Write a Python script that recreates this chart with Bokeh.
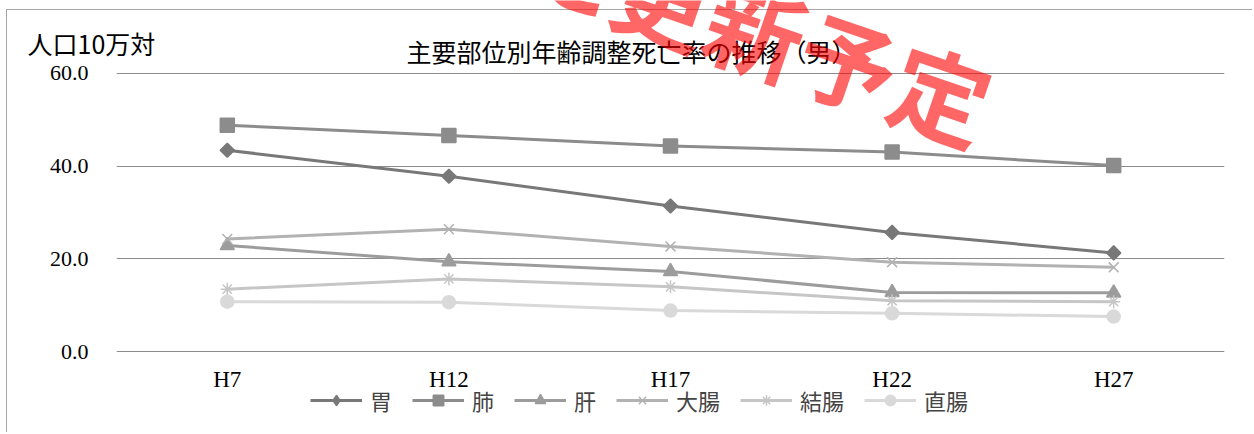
import numpy as np
from bokeh.plotting import figure
from bokeh.models import (Range1d, FactorRange, FixedTicker, PrintfTickFormatter,
                          Label, Legend, LegendItem)
from bokeh.embed import file_html
from bokeh.resources import INLINE

# ---- data ----
years = ["H7", "H12", "H17", "H22", "H27"]
series_names = ["胃", "肺", "肝", "大腸", "結腸", "直腸"]
stomach = [43.4, 37.8, 31.4, 25.7, 21.3]
lung = [48.8, 46.6, 44.3, 43.0, 40.1]
liver = [22.9, 19.4, 17.3, 12.8, 12.7]
large_intestine = [24.3, 26.4, 22.7, 19.3, 18.2]
colon = [13.5, 15.7, 14.0, 11.0, 10.8]
rectum = [10.8, 10.7, 8.9, 8.3, 7.6]
y_ticks = [0, 20, 40, 60]

title_text = "主要部位別年齢調整死亡率の推移（男）"
y_label_text = "人口10万対"
watermark_text = "近日中に更新予定"

# ---- styles ----
colors = ["#787878", "#8c8c8c", "#9c9c9c", "#b2b2b2", "#c6c6c6", "#d9d9d9"]
markers = ["square", "square", "triangle", "x", "asterisk", "circle"]
legend_markers = ["diamond", "square", "triangle", "x", "asterisk", "circle"]
angles = [np.pi / 4, 0, 0, 0, 0, 0]
sizes = [10, 14, 14, 14, 13, 13]

W, H = 1246, 423
p = figure(width=W, height=H, output_backend="svg", toolbar_location=None,
           x_range=FactorRange(*years, range_padding=0),
           y_range=Range1d(-1, 61),
           min_border_left=109, min_border_right=29,
           min_border_top=58, min_border_bottom=77,
           background_fill_color="white", border_fill_color="white")
p.styles = {"border-top": "1px solid #a6a6a6", "border-left": "1px solid #a6a6a6",
            "margin-left": "6px", "margin-top": "9px"}
p.outline_line_color = None

p.yaxis.ticker = FixedTicker(ticks=y_ticks)
p.yaxis.formatter = PrintfTickFormatter(format="%.1f")
p.yaxis.axis_line_color = None
p.yaxis.major_tick_line_color = None
p.yaxis.minor_tick_line_color = None
p.yaxis.major_tick_out = 0
p.yaxis.major_tick_in = 0
p.yaxis.major_label_standoff = 28
p.yaxis.major_label_text_font = "Liberation Serif"
p.yaxis.major_label_text_font_size = "22px"
p.yaxis.major_label_text_color = "#000000"

p.xaxis.axis_line_color = None
p.xaxis.major_tick_line_color = None
p.xaxis.major_tick_out = 0
p.xaxis.major_tick_in = 0
p.xaxis.major_label_standoff = 10
p.xaxis.major_label_text_font = "Liberation Serif"
p.xaxis.major_label_text_font_size = "23px"
p.xaxis.major_label_text_color = "#000000"

p.xgrid.grid_line_color = None
p.ygrid.grid_line_color = "#8c8c8c"
p.ygrid.grid_line_width = 1

data = [stomach, lung, liver, large_intestine, colon, rectum]
for vals, c, m, a, s in zip(data, colors, markers, angles, sizes):
    p.line(years, vals, line_color=c, line_width=3)
    p.scatter(years, vals, marker=m, angle=a, size=s,
              fill_color=c, line_color=c, line_width=1.5)

# ---- transparent overlay figure for title, y label, legend and watermark (page pixel coords) ----
OW, OH = 1250, 430
ov = figure(width=OW, height=OH, output_backend="svg", toolbar_location=None,
            x_range=Range1d(0, OW), y_range=Range1d(OH, 0),
            x_axis_type=None, y_axis_type=None, min_border=0,
            background_fill_alpha=0, border_fill_alpha=0)
ov.outline_line_color = None
ov.grid.visible = False
ov.styles = {"position": "absolute", "left": "0px", "top": "0px", "pointer-events": "none"}

nan = float("nan")
items = []
for name, c, m in zip(series_names, colors, legend_markers):
    lr = ov.line(x=[nan], y=[nan], line_color=c, line_width=3)
    sr = ov.scatter(x=[nan], y=[nan], marker=m, size=10,
                    fill_color=c, line_color=c, line_width=1.5)
    items.append(LegendItem(label=name, renderers=[lr, sr]))

legend = Legend(items=items, orientation="horizontal", location=(310, 14),
                padding=0, margin=0, spacing=20, glyph_width=52, glyph_height=26,
                label_height=22, label_standoff=8,
                label_text_font="Noto Sans CJK JP", label_text_font_size="22px",
                border_line_color=None, background_fill_alpha=0)
ov.add_layout(legend, "center")

ov.add_layout(Label(x=27, y=42, text=y_label_text,
                    text_font="Noto Sans CJK JP", text_font_size="25px",
                    text_align="left", text_baseline="middle", text_color="#000000"))
ov.add_layout(Label(x=631, y=50, text=title_text,
                    text_font="Noto Sans CJK JP", text_font_size="25px",
                    text_align="center", text_baseline="middle", text_color="#000000"))
ov.add_layout(Label(x=988, y=106, text=watermark_text,
                    text_font="Noto Sans CJK JP", text_font_size="98px",
                    text_font_style="bold", angle=-0.33,
                    text_align="right", text_baseline="middle",
                    text_color="#ff0000", text_alpha=0.6))

open("out.html", "w").write(file_html((p, ov), INLINE))
